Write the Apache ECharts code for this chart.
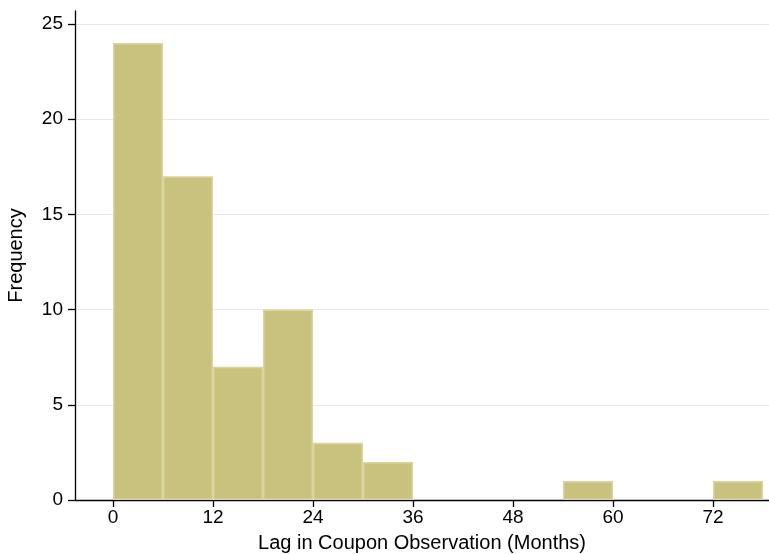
<!DOCTYPE html>
<html>
<head>
<meta charset="utf-8">
<script src="https://cdn.jsdelivr.net/npm/echarts@6/dist/echarts.min.js"></script>
<style>
  html, body { margin: 0; padding: 0; background: #fff; }
  #chart { width: 769px; height: 554px; }
</style>
</head>
<body>
<div id="chart"></div>
<script>
// Histogram of lag in coupon observation, 6-month bins
const binWidth = 6;
const binStarts = [0, 6, 12, 18, 24, 30, 36, 42, 48, 54, 60, 66, 72];
const frequencies = [24, 17, 7, 10, 3, 2, 0, 0, 0, 1, 0, 0, 1];
const xTicks = [0, 12, 24, 36, 48, 60, 72];
const yTicks = [0, 5, 10, 15, 20, 25];

const bars = binStarts.map((s, i) => [s, s + binWidth, frequencies[i]]).filter(d => d[2] > 0);

const chart = echarts.init(document.getElementById('chart'), null, { renderer: 'canvas' });
const font = 'Liberation Sans, Arial, sans-serif';

chart.setOption({
  animation: false,
  grid: { left: 75, right: 0, top: 11, bottom: 54, containLabel: false, outerBoundsMode: 'none' },
  xAxis: {
    type: 'value',
    min: -4.56,
    max: 78.72,
    name: 'Lag in Coupon Observation (Months)',
    nameLocation: 'middle',
    nameGap: 33,
    nameTextStyle: { color: '#000', fontSize: 20, fontFamily: font },
    axisLine: { show: true, onZero: false, lineStyle: { color: '#000', width: 1.3 } },
    axisTick: { show: true, length: 7, customValues: xTicks, lineStyle: { color: '#000', width: 1.3 } },
    axisLabel: { customValues: xTicks, color: '#000', fontSize: 19, fontFamily: font, margin: 8 },
    splitLine: { show: false }
  },
  yAxis: {
    type: 'value',
    min: 0,
    max: 25.68,
    name: 'Frequency',
    nameLocation: 'middle',
    nameGap: 49,
    nameRotate: 90,
    nameTextStyle: { color: '#000', fontSize: 20, fontFamily: font },
    axisLine: { show: true, onZero: false, lineStyle: { color: '#000', width: 1.3 } },
    axisTick: { show: true, length: 7, customValues: yTicks, lineStyle: { color: '#000', width: 1.3 } },
    axisLabel: { customValues: yTicks, color: '#000', fontSize: 19, fontFamily: font, margin: 12 },
    splitLine: { show: true, lineStyle: { color: '#e8e8e8', width: 1 } }
  },
  series: [{
    type: 'custom',
    data: bars,
    renderItem: function (params, api) {
      const p0 = api.coord([api.value(0), api.value(2)]);
      const p1 = api.coord([api.value(1), 0]);
      return {
        type: 'rect',
        shape: { x: p0[0] + 0.75, y: p0[1] + 0.75, width: p1[0] - p0[0] - 1.5, height: p1[1] - p0[1] - 1.5 },
        style: { fill: '#c9c27f', stroke: '#dad49f', lineWidth: 1.5 }
      };
    },
    encode: { x: [0, 1], y: 2 }
  }]
});
</script>
</body>
</html>
